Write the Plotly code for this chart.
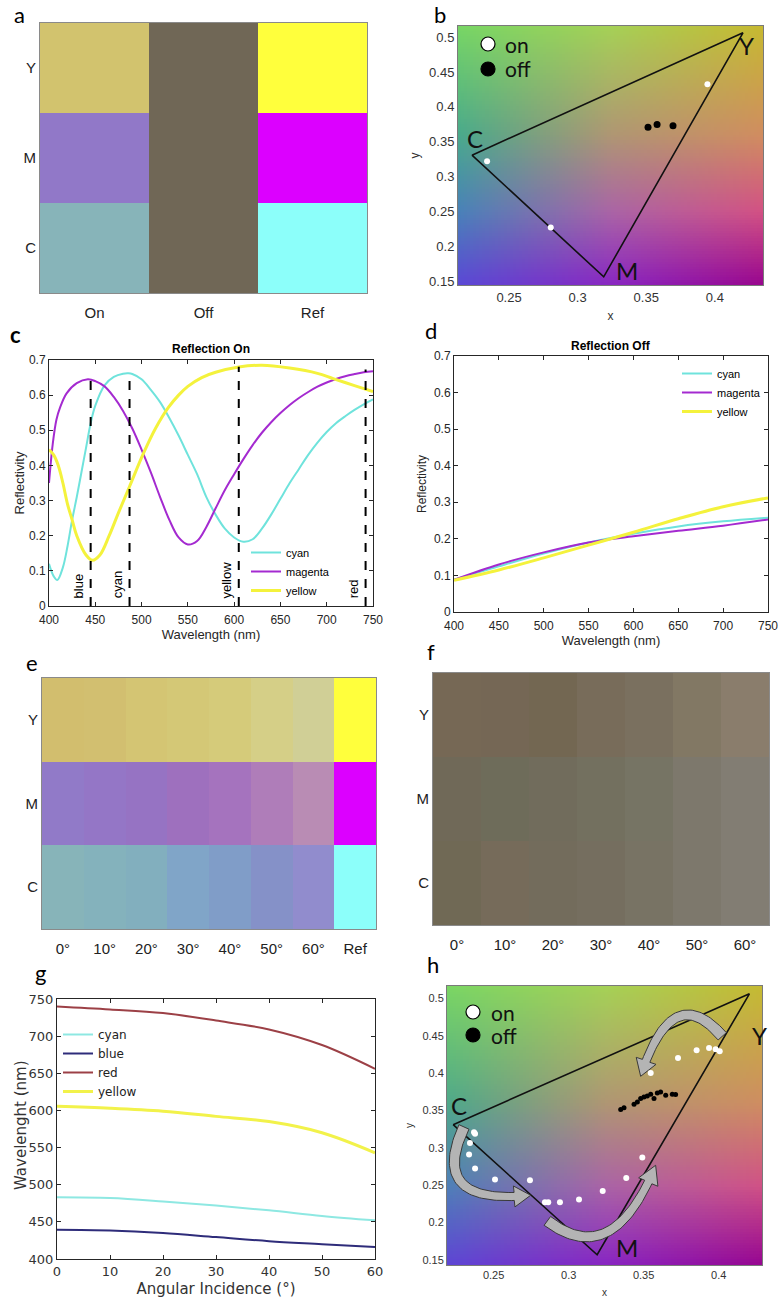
import numpy as np
import plotly.graph_objects as go

W, H = 779, 1300

# ---------------- data ----------------
row_labels = ["Y", "M", "C"]

a_cols = ["On", "Off", "Ref"]
a_colors = [
    [[210, 195, 110], [112, 103, 86], [255, 255, 60]],
    [[145, 120, 200], [112, 103, 86], [220, 0, 255]],
    [[135, 180, 185], [112, 103, 86], [140, 255, 250]],
]

e_cols = ["0°", "10°", "20°", "30°", "40°", "50°", "60°", "Ref"]
e_colors = [
    [[210, 190, 110], [210, 191, 112], [212, 197, 115], [212, 200, 118], [213, 203, 122], [213, 207, 135], [208, 207, 150], [255, 255, 60]],
    [[145, 122, 200], [148, 118, 198], [150, 115, 195], [158, 112, 190], [165, 115, 190], [175, 125, 185], [185, 140, 180], [220, 0, 255]],
    [[135, 180, 185], [132, 178, 188], [130, 175, 190], [128, 165, 200], [128, 157, 200], [133, 145, 200], [145, 140, 205], [140, 255, 250]],
]

f_cols = ["0°", "10°", "20°", "30°", "40°", "50°", "60°"]
f_colors = [
    [[118, 104, 85], [117, 103, 85], [115, 103, 82], [120, 108, 90], [122, 112, 95], [130, 120, 100], [138, 125, 108]],
    [[112, 105, 88], [110, 108, 90], [113, 108, 92], [115, 112, 95], [118, 116, 100], [125, 120, 108], [130, 125, 115]],
    [[112, 105, 85], [118, 107, 90], [115, 108, 92], [117, 110, 95], [120, 115, 100], [125, 120, 108], [130, 125, 115]],
]

# colour gamut triangle (C, Y, M)
tri_names = ["C", "Y", "M"]
tri_x = [0.223, 0.4205, 0.319]
tri_y = [0.331, 0.506, 0.157]

# panel b points
b_on_x = [0.234, 0.2804, 0.3946]
b_on_y = [0.3224, 0.2276, 0.4324]
b_off_x = [0.3513, 0.3579, 0.3695]
b_off_y = [0.371, 0.375, 0.373]

# panel h points
h_on_x = [0.2369, 0.2376, 0.2342, 0.2336, 0.2376, 0.2509, 0.2742, 0.2842, 0.2864, 0.2942,
          0.3069, 0.3227, 0.3384, 0.3491, 0.3547, 0.3729, 0.3853, 0.3936, 0.398, 0.4007]
h_on_y = [0.321, 0.319, 0.3066, 0.291, 0.2723, 0.2576, 0.2567, 0.2273, 0.2273, 0.2273,
          0.2308, 0.2424, 0.2598, 0.287, 0.4002, 0.4202, 0.4305, 0.4336, 0.4318, 0.4291]
h_off_x = [0.3347, 0.3369, 0.3436, 0.3458, 0.348, 0.3502, 0.3524, 0.3547, 0.3569, 0.3591,
           0.3613, 0.3647, 0.3691, 0.3713]
h_off_y = [0.3512, 0.3538, 0.3583, 0.3614, 0.3659, 0.3681, 0.3694, 0.3717, 0.3659, 0.3734,
           0.3748, 0.3703, 0.3717, 0.3712]

# curved arrows in panel h: tail, control, tip
arrow_tail = [(0.4024, 0.4492), (0.2302, 0.328), (0.2858, 0.2023)]
arrow_ctrl = [(0.369, 0.5265), (0.2058, 0.2221), (0.3297, 0.1357)]
arrow_tip = [(0.348, 0.3957), (0.2747, 0.2366), (0.358, 0.2767)]

# panel c : Reflection On
c_cyan_wl = [400, 405, 409, 415, 420, 425, 430, 435, 440, 445, 450, 460, 470, 480, 486, 490, 500, 510, 520,
             530, 540, 550, 560, 570, 580, 590, 600, 610, 620, 630, 640, 650, 660, 670, 680, 690, 700,
             710, 720, 730, 740, 750]
c_cyan = [0.12, 0.085, 0.074, 0.11, 0.17, 0.245, 0.31, 0.38, 0.45, 0.52, 0.57, 0.628, 0.652, 0.661, 0.662,
          0.66, 0.645, 0.615, 0.58, 0.535, 0.485, 0.43, 0.375, 0.31, 0.26, 0.22, 0.195, 0.183, 0.19,
          0.22, 0.26, 0.305, 0.35, 0.39, 0.43, 0.465, 0.495, 0.52, 0.54, 0.558, 0.574, 0.588]
c_mag_wl = [400, 404, 408, 412, 419, 430, 442, 450, 460, 470, 480, 490, 500, 510, 520, 530, 540, 550,
            560, 570, 580, 590, 600, 610, 620, 630, 640, 650, 660, 670, 680, 690, 700, 710, 720, 730,
            740, 750]
c_mag = [0.35, 0.46, 0.53, 0.565, 0.605, 0.634, 0.645, 0.64, 0.625, 0.595, 0.555, 0.505, 0.445, 0.38,
         0.31, 0.245, 0.195, 0.175, 0.185, 0.225, 0.278, 0.33, 0.375, 0.418, 0.458, 0.493, 0.523, 0.549,
         0.572, 0.592, 0.609, 0.624, 0.636, 0.646, 0.654, 0.66, 0.665, 0.668]
c_yel_wl = [400, 405, 410, 415, 420, 425, 430, 440, 447, 455, 465, 475, 487, 502, 515, 529, 540, 550,
            565, 580, 605, 630, 660, 690, 707, 730, 750]
c_yel = [0.445, 0.43, 0.40, 0.35, 0.29, 0.245, 0.20, 0.145, 0.13, 0.145, 0.2, 0.265, 0.34, 0.434, 0.505,
         0.565, 0.6, 0.625, 0.65, 0.665, 0.68, 0.685, 0.677, 0.662, 0.647, 0.627, 0.61]
mark_names = ["blue", "cyan", "yellow", "red"]
mark_wl = [445, 487, 605, 742]
mark_top = [0.64, 0.662, 0.681, 0.673]

# panel d : Reflection Off
d_wl = [400, 450, 500, 550, 600, 650, 700, 750]
d_cyan = [0.088, 0.125, 0.16, 0.19, 0.214, 0.234, 0.248, 0.258]
d_mag = [0.088, 0.13, 0.163, 0.19, 0.207, 0.222, 0.236, 0.253]
d_yel = [0.087, 0.115, 0.148, 0.183, 0.218, 0.255, 0.288, 0.312]

# panel g : peak wavelength vs angle
g_angle = [0, 10, 20, 30, 40, 50, 60]
g_cyan = [483, 482, 477.5, 472, 465.5, 458, 452]
g_blue = [439.5, 438.5, 435, 429.5, 424, 420, 416]
g_red = [740, 736, 731, 721, 709, 688, 656]
g_yellow = [605.5, 603, 599, 592, 585, 570, 543]

# chromaticity background anchor colours
bg_anchor_x = [0.21, 0.325, 0.44]
bg_anchor_y = [0.14, 0.25, 0.36, 0.52]
bg_anchor_rgb = [
    [[90, 70, 215], [135, 35, 195], [150, 0, 140]],
    [[70, 130, 185], [170, 100, 165], [212, 80, 130]],
    [[70, 170, 140], [175, 150, 115], [210, 140, 95]],
    [[120, 215, 100], [165, 210, 85], [200, 185, 45]],
]

# ---------------- helpers ----------------
def px(x):
    return x / W


def py(y):
    return 1 - y / H


def dom_x(l, r):
    return [l / W, r / W]


def dom_y(t, b):
    return [1 - b / H, 1 - t / H]


def bg_image(xr, yr, n=100):
    dx = (xr[1] - xr[0]) / n
    dy = (yr[1] - yr[0]) / n
    xs = xr[0] + dx * (np.arange(n) + 0.5)
    ys = yr[0] + dy * (np.arange(n) + 0.5)
    anc = np.array(bg_anchor_rgb, float)
    rows = np.zeros((len(bg_anchor_y), n, 3))
    for j in range(len(bg_anchor_y)):
        for k in range(3):
            rows[j, :, k] = np.interp(xs, bg_anchor_x, anc[j, :, k])
    img = np.zeros((n, n, 3))
    for i in range(n):
        for k in range(3):
            img[:, i, k] = np.interp(ys, bg_anchor_y, rows[:, i, k])
    return img.round().astype(int).tolist(), xs[0], dx, ys[0], dy


def arrow_poly(p0, c, p2, xr, yr, pw, ph, w0=11, w1=8, head_w=21, head_len=15, n=60):
    sx = pw / (xr[1] - xr[0])
    sy = ph / (yr[1] - yr[0])
    P0 = np.array([(p0[0] - xr[0]) * sx, (p0[1] - yr[0]) * sy])
    C = np.array([(c[0] - xr[0]) * sx, (c[1] - yr[0]) * sy])
    P2 = np.array([(p2[0] - xr[0]) * sx, (p2[1] - yr[0]) * sy])
    t = np.linspace(0, 1, n)[:, None]
    pts = (1 - t) ** 2 * P0 + 2 * t * (1 - t) * C + t ** 2 * P2
    seg = np.hypot(*np.diff(pts, axis=0).T)
    cum = np.concatenate([[0], np.cumsum(seg)])
    L = cum[-1]
    keep = cum <= L - head_len
    body = pts[keep]
    tang = np.gradient(body, axis=0)
    tang /= np.linalg.norm(tang, axis=1)[:, None]
    nrm = np.stack([-tang[:, 1], tang[:, 0]], 1)
    wid = np.linspace(w0, w1, len(body))[:, None] / 2
    left = body + nrm * wid
    right = body - nrm * wid
    base = body[-1]
    d = P2 - base
    d /= np.linalg.norm(d)
    hn = np.array([-d[1], d[0]])
    poly = np.vstack([left, base + hn * head_w / 2, P2, base - hn * head_w / 2, right[::-1], left[:1]])
    xs = poly[:, 0] / sx + xr[0]
    ys = poly[:, 1] / sy + yr[0]
    return xs.tolist(), ys.tolist()


FONT = "Liberation Sans"
AX = "#262626"

fig = go.Figure()
annotations = []
shapes = []

# ---------------- panel a ----------------
fig.add_trace(go.Image(z=a_colors, x0=0, dx=1, y0=0, dy=1, xaxis="x", yaxis="y", hoverinfo="skip"))

# ---------------- panel b ----------------
b_xr = [0.2128, 0.4351]
b_yr = [0.1453, 0.5157]
img, x0, dx, y0, dy = bg_image(b_xr, b_yr)
fig.add_trace(go.Image(z=img, x0=x0, dx=dx, y0=y0, dy=dy, xaxis="x2", yaxis="y2", hoverinfo="skip"))
fig.add_trace(go.Scatter(x=tri_x + tri_x[:1], y=tri_y + tri_y[:1], mode="lines",
                         line=dict(color="#111111", width=1.6), xaxis="x2", yaxis="y2",
                         showlegend=False, hoverinfo="skip"))
fig.add_trace(go.Scatter(x=b_on_x, y=b_on_y, mode="markers", name="on",
                         marker=dict(color="white", size=6), xaxis="x2", yaxis="y2", showlegend=False))
fig.add_trace(go.Scatter(x=b_off_x, y=b_off_y, mode="markers", name="off",
                         marker=dict(color="black", size=7), xaxis="x2", yaxis="y2", showlegend=False))

# ---------------- panel c ----------------
for nm, xs, ys, col, wd in [("cyan", c_cyan_wl, c_cyan, "#6fe3dc", 2),
                             ("magenta", c_mag_wl, c_mag, "#a42ad0", 2),
                             ("yellow", c_yel_wl, c_yel, "#f4f23c", 3)]:
    fig.add_trace(go.Scatter(x=xs, y=ys, mode="lines", name=nm, line=dict(color=col, width=wd, shape="spline"),
                             xaxis="x3", yaxis="y3", legend="legend"))
for nm, w, top in zip(mark_names, mark_wl, mark_top):
    fig.add_trace(go.Scatter(x=[w, w], y=[0, top], mode="lines", line=dict(color="black", width=2, dash="dash"),
                             xaxis="x3", yaxis="y3", showlegend=False, hoverinfo="skip"))
    annotations.append(dict(x=w, y=0.015, xref="x3", yref="y3", text=nm, textangle=-90, showarrow=False,
                            xanchor="right", yanchor="bottom", xshift=-3,
                            font=dict(family=FONT, size=13, color="black")))

# ---------------- panel d ----------------
for nm, ys, col, wd in [("cyan", d_cyan, "#6fe3dc", 2), ("magenta", d_mag, "#a42ad0", 2),
                        ("yellow", d_yel, "#f4f23c", 3)]:
    fig.add_trace(go.Scatter(x=d_wl, y=ys, mode="lines", name=nm, line=dict(color=col, width=wd, shape="spline"),
                             xaxis="x4", yaxis="y4", legend="legend2"))

# ---------------- panel e ----------------
fig.add_trace(go.Image(z=e_colors, x0=0, dx=1, y0=0, dy=1, xaxis="x5", yaxis="y5", hoverinfo="skip"))

# ---------------- panel f ----------------
fig.add_trace(go.Image(z=f_colors, x0=0, dx=1, y0=0, dy=1, xaxis="x6", yaxis="y6", hoverinfo="skip"))

# ---------------- panel g ----------------
for nm, ys, col, wd in [("cyan", g_cyan, "#8ee8e2", 2), ("blue", g_blue, "#2e2c7a", 2),
                        ("red", g_red, "#9c4046", 2), ("yellow", g_yellow, "#f2f24a", 3)]:
    fig.add_trace(go.Scatter(x=g_angle, y=ys, mode="lines", name=nm, line=dict(color=col, width=wd, shape="spline"),
                             xaxis="x7", yaxis="y7", legend="legend3"))
annotations.append(dict(x=px(21), y=py(1125), xref="paper", yref="paper", text="Wavelenght (nm)",
                        textangle=-90, showarrow=False, xanchor="center", yanchor="middle",
                        font=dict(family="DejaVu Sans", size=15, color="#333")))

# ---------------- panel h ----------------
h_xr = [0.2189, 0.4289]
h_yr = [0.1433, 0.5165]
img, x0, dx, y0, dy = bg_image(h_xr, h_yr)
fig.add_trace(go.Image(z=img, x0=x0, dx=dx, y0=y0, dy=dy, xaxis="x8", yaxis="y8", hoverinfo="skip"))
fig.add_trace(go.Scatter(x=tri_x + tri_x[:1], y=tri_y + tri_y[:1], mode="lines",
                         line=dict(color="#111111", width=1.6), xaxis="x8", yaxis="y8",
                         showlegend=False, hoverinfo="skip"))
for p0, cc, p2 in zip(arrow_tail, arrow_ctrl, arrow_tip):
    ax_, ay_ = arrow_poly(p0, cc, p2, h_xr, h_yr, 315, 279)
    fig.add_trace(go.Scatter(x=ax_, y=ay_, mode="lines", fill="toself", fillcolor="#b4b4b4",
                             line=dict(color="#3a3a3a", width=1), xaxis="x8", yaxis="y8",
                             showlegend=False, hoverinfo="skip"))
fig.add_trace(go.Scatter(x=h_on_x, y=h_on_y, mode="markers", name="on",
                         marker=dict(color="white", size=6), xaxis="x8", yaxis="y8", showlegend=False))
fig.add_trace(go.Scatter(x=h_off_x, y=h_off_y, mode="markers", name="off",
                         marker=dict(color="black", size=5), xaxis="x8", yaxis="y8", showlegend=False))

# vertex labels
for xa, ya, shifts in [("x2", "y2", [(3, 17), (4, -13), (23, 6)]), ("x8", "y8", [(6, 19), (10, -42), (30, 7)])]:
    for nm, vx, vy, (sx_, sy_) in zip(tri_names, tri_x, tri_y, shifts):
        annotations.append(dict(x=vx, y=vy, xref=xa, yref=ya, text=nm, showarrow=False, xshift=sx_, yshift=sy_,
                                xanchor="center", yanchor="middle",
                                font=dict(family="Lato", size=24, color="#111111")))

# on/off legends for b and h (symbols + text)
for (cx, cy_on, cy_off, tx) in [(488, 44, 69, 503), (473, 1012, 1035, 489)]:
    shapes.append(dict(type="circle", xref="paper", yref="paper", x0=px(cx - 7), x1=px(cx + 7),
                       y0=py(cy_on + 7), y1=py(cy_on - 7), fillcolor="white", line=dict(color="black", width=1.2)))
    shapes.append(dict(type="circle", xref="paper", yref="paper", x0=px(cx - 7), x1=px(cx + 7),
                       y0=py(cy_off + 7), y1=py(cy_off - 7), fillcolor="black", line=dict(color="black", width=1.2)))
    annotations.append(dict(x=px(tx), y=py(cy_on), xref="paper", yref="paper", text="on", showarrow=False,
                            xanchor="left", yanchor="middle", font=dict(family="Lato", size=21, color="#111111")))
    annotations.append(dict(x=px(tx), y=py(cy_off), xref="paper", yref="paper", text="off", showarrow=False,
                            xanchor="left", yanchor="middle", font=dict(family="Lato", size=21, color="#111111")))

# titles
annotations.append(dict(x=px(211), y=py(349), xref="paper", yref="paper", text="<b>Reflection On</b>",
                        showarrow=False, xanchor="center", yanchor="middle",
                        font=dict(family=FONT, size=12, color="black")))
annotations.append(dict(x=px(611), y=py(346), xref="paper", yref="paper", text="<b>Reflection Off</b>",
                        showarrow=False, xanchor="center", yanchor="middle",
                        font=dict(family=FONT, size=12, color="black")))

# panel letters
for letter, lx, ly, bold in [("a", 19, 15, False), ("b", 440, 15, False), ("c", 16, 334, True),
                             ("d", 431, 330, False), ("e", 32, 662, False), ("f", 431, 651, False),
                             ("g", 40, 972, False), ("h", 433, 964, False)]:
    annotations.append(dict(x=px(lx), y=py(ly), xref="paper", yref="paper",
                            text=f"<b>{letter}</b>" if bold else letter, showarrow=False,
                            xanchor="center", yanchor="middle",
                            font=dict(family="Lato", size=22, color="black")))


def box_axis(domain, rng=None, **kw):
    d = dict(domain=domain, showline=True, mirror="allticks", linecolor=AX, linewidth=1, showgrid=False,
             zeroline=False, ticks="inside", ticklen=4, tickcolor=AX, automargin=False,
             tickfont=dict(family=FONT, size=12, color=AX))
    if rng is not None:
        d["range"] = rng
    d.update(kw)
    return d


def cell_axis(domain, rng, labels, size=15, **kw):
    d = dict(domain=domain, range=rng, showline=True, mirror=True, linecolor="#8a8a8a", linewidth=1,
             showgrid=False, zeroline=False, ticks="", tickvals=list(range(len(labels))), ticktext=labels,
             automargin=False, tickfont=dict(family=FONT, size=size, color="#222222"))
    d.update(kw)
    return d


def cie_axis(domain, rng, vals, size, title, standoff, **kw):
    d = dict(domain=domain, range=rng, showline=True, mirror=True, linecolor="#7a7a7a", showgrid=False,
             zeroline=False, ticks="", automargin=False, tickvals=vals, ticktext=[f"{v:g}" for v in vals],
             tickfont=dict(family=FONT, size=size, color="#333"),
             title=dict(text=title, font=dict(family=FONT, size=size - 1, color="#333"), standoff=standoff))
    d.update(kw)
    return d


cie_x_ticks = [0.25, 0.3, 0.35, 0.4]
cie_y_ticks = [0.15, 0.2, 0.25, 0.3, 0.35, 0.4, 0.45, 0.5]

layout = dict(
    width=W, height=H, margin=dict(l=0, r=0, t=0, b=0, autoexpand=False),
    paper_bgcolor="white", plot_bgcolor="white",
    annotations=annotations, shapes=shapes,
    # a
    xaxis=cell_axis(dom_x(40, 367), [-0.5, 2.5], a_cols, anchor="y", ticklabelstandoff=6),
    yaxis=cell_axis(dom_y(23, 293), [2.5, -0.5], row_labels, anchor="x", scaleanchor=False),
    # b
    xaxis2=cie_axis(dom_x(458, 763), b_xr, cie_x_ticks, 13, "x", 8, anchor="y2"),
    yaxis2=cie_axis(dom_y(26, 285), b_yr, cie_y_ticks, 13, "y", 6, anchor="x2", scaleanchor=False),
    # c
    xaxis3=box_axis(dom_x(49, 373), [400, 750], anchor="y3", dtick=50, tick0=400, ticklabelstandoff=3,
                    title=dict(text="Wavelength (nm)", font=dict(family=FONT, size=13, color=AX), standoff=3)),
    yaxis3=box_axis(dom_y(360, 606), [0, 0.7], anchor="x3", dtick=0.1, tick0=0,
                    title=dict(text="Reflectivity", font=dict(family=FONT, size=13, color=AX), standoff=1)),
    # d
    xaxis4=box_axis(dom_x(454, 768), [400, 750], anchor="y4", dtick=50, tick0=400, ticklabelstandoff=3,
                    title=dict(text="Wavelength (nm)", font=dict(family=FONT, size=13, color=AX), standoff=3)),
    yaxis4=box_axis(dom_y(356, 612), [0, 0.7], anchor="x4", dtick=0.1, tick0=0,
                    title=dict(text="Reflectivity", font=dict(family=FONT, size=12, color=AX), standoff=4)),
    # e
    xaxis5=cell_axis(dom_x(42, 376), [-0.5, 7.5], e_cols, anchor="y5", ticklabelstandoff=6),
    yaxis5=cell_axis(dom_y(678, 929), [2.5, -0.5], row_labels, anchor="x5", scaleanchor=False),
    # f
    xaxis6=cell_axis(dom_x(433, 769), [-0.5, 6.5], f_cols, anchor="y6", ticklabelstandoff=6),
    yaxis6=cell_axis(dom_y(673, 925), [2.5, -0.5], row_labels, anchor="x6", scaleanchor=False),
    # g
    xaxis7=box_axis(dom_x(57, 375), [0, 60], anchor="y7", dtick=10, tick0=0,
                    tickfont=dict(family="DejaVu Sans", size=13, color="#333"),
                    title=dict(text="Angular Incidence (°)", font=dict(family="DejaVu Sans", size=15, color="#333"),
                               standoff=5)),
    yaxis7=box_axis(dom_y(999, 1259), [400, 750], anchor="x7", dtick=50, tick0=400,
                    tickfont=dict(family="DejaVu Sans", size=13, color="#333")),
    # h
    xaxis8=cie_axis(dom_x(447, 762), h_xr, cie_x_ticks, 11, "x", 8, anchor="y8"),
    yaxis8=cie_axis(dom_y(986, 1265), h_yr, cie_y_ticks, 11, "y", 6, anchor="x8", scaleanchor=False),
    legend=dict(x=px(246), y=py(538), xanchor="left", yanchor="top", bgcolor="rgba(0,0,0,0)",
                font=dict(family=FONT, size=11, color="black"), tracegroupgap=0, itemwidth=30),
    legend2=dict(x=px(677), y=py(359), xanchor="left", yanchor="top", bgcolor="rgba(0,0,0,0)",
                 font=dict(family=FONT, size=11, color="black"), tracegroupgap=0, itemwidth=30),
    legend3=dict(x=px(58), y=py(1020), xanchor="left", yanchor="top", bgcolor="rgba(0,0,0,0)",
                 font=dict(family="DejaVu Sans", size=12, color="#222"), tracegroupgap=0, itemwidth=30),
)

fig.update_layout(**layout)
fig.write_html("out.html", config={"displayModeBar": False},
               post_script="document.body.style.margin='0px';")
